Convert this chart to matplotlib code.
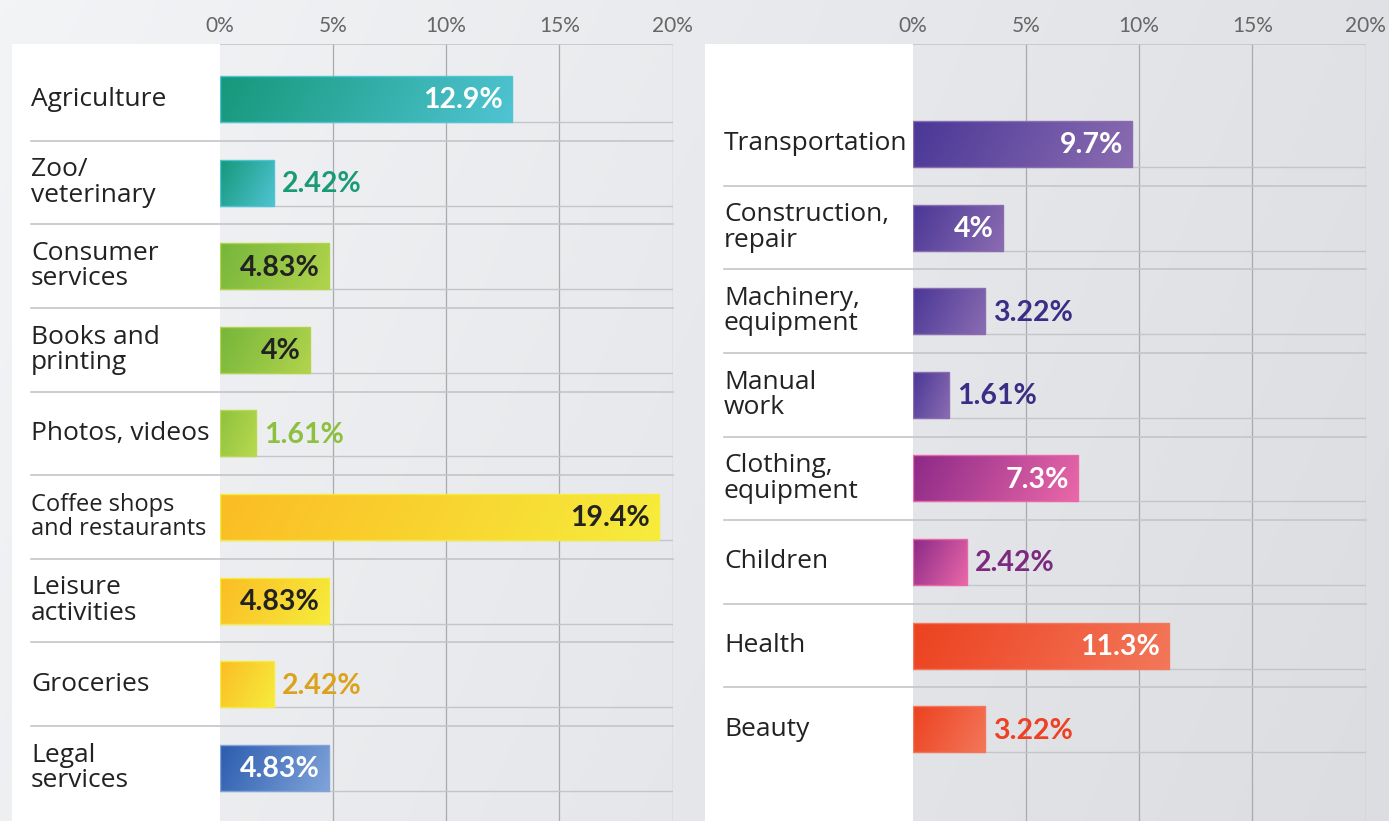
"""
Share of businesses by sector - two panel horizontal bar chart
"""
import numpy as np
import matplotlib.pyplot as plt
from matplotlib.patches import Rectangle
from matplotlib.colors import LinearSegmentedColormap

plt.rcParams['font.family'] = ['Lato', 'DejaVu Sans']

# left panel data
left_labels = ["Agriculture", "Zoo/\nveterinary", "Consumer\nservices", "Books and\nprinting",
               "Photos, videos", "Coffee shops\nand restaurants", "Leisure\nactivities",
               "Groceries", "Legal\nservices"]
left_values = [12.9, 2.42, 4.83, 4.0, 1.61, 19.4, 4.83, 2.42, 4.83]
left_text = ["12.9%", "2.42%", "4.83%", "4%", "1.61%", "19.4%", "4.83%", "2.42%", "4.83%"]
left_groups = ["teal", "teal", "green", "green", "lime", "yellow", "yellow", "yellow", "blue"]

# right panel data
right_labels = ["Transportation", "Construction,\nrepair", "Machinery,\nequipment", "Manual\nwork",
                "Clothing,\nequipment", "Children", "Health", "Beauty"]
right_values = [9.7, 4.0, 3.22, 1.61, 7.3, 2.42, 11.3, 3.22]
right_text = ["9.7%", "4%", "3.22%", "1.61%", "7.3%", "2.42%", "11.3%", "3.22%"]
right_groups = ["purple", "purple", "purple", "purple", "magenta", "magenta", "red", "red"]

ticks = [0, 5, 10, 15, 20]
tick_labels = ["0%", "5%", "10%", "15%", "20%"]

# gradient start/end, label colour inside, label colour outside
styles = {
    "teal": ("#16987a", "#4fc4d3", "white", "#1b9a78"),
    "green": ("#76b63a", "#b2d44d", "#222222", "#86bc3c"),
    "lime": ("#8ec23e", "#b9d94f", "#222222", "#8cc03e"),
    "yellow": ("#fbbd24", "#f6ec3c", "#222222", "#dda21c"),
    "blue": ("#2c5caf", "#80a4d9", "white", "#2c5caf"),
    "purple": ("#4a3897", "#8b6cb1", "white", "#3b2d86"),
    "magenta": ("#8c2a88", "#ea68a8", "white", "#7c2a7e"),
    "red": ("#ec4220", "#f3775a", "white", "#ee4022"),
}

W, H = 1389, 821
fig = plt.figure(figsize=(W / 100, H / 100), dpi=100)

# page background gradient
bg = fig.add_axes([0, 0, 1, 1], zorder=-10)
gx, gy = np.meshgrid(np.linspace(0, 1, 300), np.linspace(0, 1, 200))
bgcmap = LinearSegmentedColormap.from_list("bg", ["#f3f4f6", "#dcdde1"])
bg.imshow(0.8 * gx + 0.2 * gy, cmap=bgcmap, aspect="auto", extent=(0, 1, 0, 1), vmin=0, vmax=1)
bg.set_axis_off()

# white label boxes
for x0 in (12, 705):
    fig.add_artist(Rectangle((x0 / W, 0), 207.5 / W, 1 - 44 / H, transform=fig.transFigure,
                             facecolor="white", edgecolor="none", zorder=-5))

pitch = 83.6
top_px = 44


def panel(x_left, labels, values, texts, groups, first_center):
    ax = fig.add_axes([x_left / W, 0, 453.2 / W, 1 - top_px / H])
    ax.set_facecolor("none")
    n = len(values)
    ypos = np.arange(n)
    y_top = -(first_center - top_px) / pitch
    y_bot = (H - first_center) / pitch
    bh = 46 / pitch

    # grid
    for t in ticks[1:]:
        ax.axvline(t, color="#a9a9ae", lw=0.9, zorder=1)
    ax.axhline(y_top, color="#c4c5c9", lw=1.2, zorder=1)
    for i in range(n):
        ax.axhline(i + bh / 2, color="#c4c5c9", lw=1.0, zorder=1)
        if i < n - 1:
            ax.axhline(i + 0.5, xmin=-0.416, xmax=1, color="#c4c5c9", lw=1.2,
                       clip_on=False, zorder=1)

    bars = ax.barh(ypos, values, height=bh, color="none", zorder=2)
    for b, v, g, txt, lab, y in zip(bars, values, groups, texts, labels, ypos):
        c0, c1, cin, cout = styles[g]
        cmap = LinearSegmentedColormap.from_list(g, [c0, c1])
        u, w = np.meshgrid(np.linspace(0, 1, 100), np.linspace(0, 1, 30))
        aspect = min(1.0, 46 / (v / 20 * 453))
        grad = (u + 0.5 * w * aspect) / (1 + 0.5 * aspect)
        im = ax.imshow(grad, cmap=cmap, aspect="auto", origin="upper",
                       extent=(0, v, y + bh / 2, y - bh / 2), zorder=3)
        im.set_clip_path(b)
        ax.add_patch(Rectangle((0, y - bh / 2), v, bh, facecolor="none",
                               edgecolor=c1, lw=1.0, zorder=4))
        if v >= 4:
            ax.annotate(txt, (v, y), xytext=(-6.5, -1), textcoords="offset points",
                        ha="right", va="center", color=cin, fontsize=20.5,
                        fontweight="bold", zorder=5)
        else:
            ax.annotate(txt, (v, y), xytext=(5.5, -1), textcoords="offset points",
                        ha="left", va="center", color=cout, fontsize=20.5,
                        fontweight="bold", zorder=5)
        # long labels are set a bit smaller so they stay inside the white box
        longest = max(len(s) for s in lab.split("\n"))
        fs = 17 if longest > 14 else 19
        ax.text(-0.416, y, lab, transform=ax.get_yaxis_transform(), ha="left",
                va="center", fontsize=fs, color="#222222", linespacing=1.02,
                family=["Open Sans", "DejaVu Sans"])

    ax.set_xlim(0, 20)
    ax.set_ylim(y_bot, y_top)
    ax.xaxis.tick_top()
    ax.set_xticks(ticks)
    ax.set_xticklabels(tick_labels, fontsize=15, color="#666666")
    ax.tick_params(axis="x", length=0, pad=5.5)
    ax.set_yticks([])
    for s in ax.spines.values():
        s.set_visible(False)
    return ax


panel(219.5, left_labels, left_values, left_text, left_groups, 99)
panel(912.5, right_labels, right_values, right_text, right_groups, 144)

fig.savefig("out.png", dpi=100)
